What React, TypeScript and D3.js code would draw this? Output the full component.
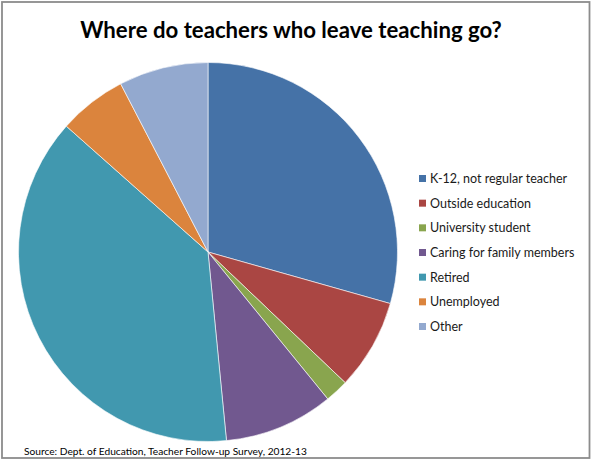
import React from 'react';
import * as d3 from 'd3';

// Share of leavers (%)
const categories = [
  'K-12, not regular teacher',
  'Outside education',
  'University student',
  'Caring for family members',
  'Retired',
  'Unemployed',
  'Other'
];
const shares = [29.3, 7.7, 2.0, 9.3, 38.0, 5.8, 7.6];
const colors = ['#4572A7', '#AA4643', '#89A54E', '#71588F', '#4198AF', '#DB843D', '#93A9CF'];

const title = 'Where do teachers who leave teaching go?';
const source = 'Source: Dept. of Education, Teacher Follow-up Survey, 2012-13';

const W = 593;
const H = 463;
const cx = 208;
const cy = 252;
const radius = 189.5;

const App: React.FC = () => {
  const rows = categories.map((c, i) => ({ label: c, value: shares[i], color: colors[i] }));

  const pie = d3.pie<typeof rows[number]>()
    .sort(null)
    .value(d => d.value);
  const arc = d3.arc<d3.PieArcDatum<typeof rows[number]>>()
    .innerRadius(0)
    .outerRadius(radius);

  const legendY = d3.scalePoint<string>()
    .domain(categories)
    .range([178.5, 326.5]);

  const font = 'Lato, "Open Sans", sans-serif';

  return (
    <svg width={W} height={H} style={{ position: 'absolute', left: 0, top: 0, background: 'white' }}>
      <rect x={2} y={2} width={587.5} height={456} fill="white" stroke="#8c8c8c" strokeWidth={1.8} />
      <text x={291} y={38} textAnchor="middle" fontFamily={font} fontWeight="bold" fontSize={22.2} fill="#000">
        {title}
      </text>
      <g transform={`translate(${cx},${cy})`}>
        {pie(rows).map((d, i) => (
          <path key={i} d={arc(d) || ''} fill={d.data.color} stroke="#ffffff" strokeWidth={0.6} />
        ))}
      </g>
      <g>
        {rows.map((r, i) => (
          <g key={i} transform={`translate(0,${legendY(r.label)})`}>
            <rect x={419} y={-3.5} width={7} height={7} fill={r.color} />
            <text x={430} y={0} dy="0.35em" fontFamily={font} fontSize={12.5} fill="#1a1a1a">
              {r.label}
            </text>
          </g>
        ))}
      </g>
      <text x={24} y={455} fontFamily={font} fontSize={10.2} fill="#000">
        {source}
      </text>
    </svg>
  );
};

export default App;
